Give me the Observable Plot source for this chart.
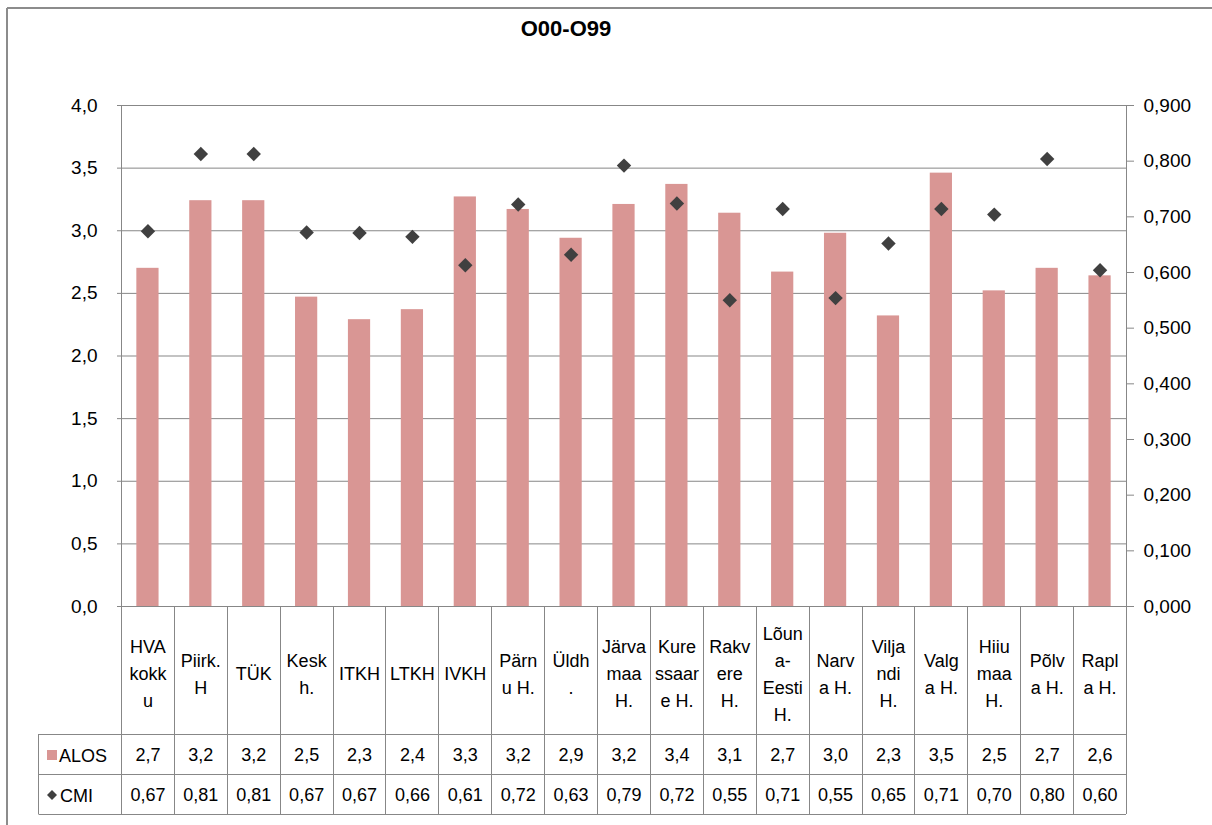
<!DOCTYPE html>
<html>
<head>
<meta charset="utf-8">
<script src="https://cdn.jsdelivr.net/npm/d3@7"></script>
<script src="https://cdn.jsdelivr.net/npm/@observablehq/plot@0.6"></script>
<style>
  html, body { margin: 0; padding: 0; background: #fff; }
  #chart svg { display: block; }
</style>
</head>
<body>
<div id="chart"></div>
<script>
// ---- data ----
const title = "O00-O99";
const categories = ["HVA kokku", "Piirk. H", "TÜK", "Kesk h.", "ITKH", "LTKH", "IVKH", "Pärnu H.", "Üldh.",
  "Järvamaa H.", "Kuressaare H.", "Rakvere H.", "Lõuna-Eesti H.", "Narva H.", "Viljandi H.", "Valga H.",
  "Hiiumaa H.", "Põlva H.", "Rapla H."];
const headerLabels = ["HVA\nkokk\nu", "Piirk.\nH", "TÜK", "Kesk\nh.", "ITKH", "LTKH", "IVKH", "Pärn\nu H.", "Üldh\n.",
  "Järva\nmaa\nH.", "Kure\nssaar\ne H.", "Rakv\nere\nH.", "Lõun\na-\nEesti\nH.", "Narv\na H.", "Vilja\nndi\nH.",
  "Valg\na H.", "Hiiu\nmaa\nH.", "Põlv\na H.", "Rapl\na H."];
const alos = [2.70, 3.24, 3.24, 2.47, 2.29, 2.37, 3.27, 3.17, 2.94, 3.21, 3.37, 3.14, 2.67, 2.98, 2.32, 3.46, 2.52, 2.70, 2.64];
const cmi = [0.674, 0.813, 0.813, 0.672, 0.671, 0.664, 0.613, 0.722, 0.632, 0.792, 0.724, 0.550, 0.714, 0.554, 0.652, 0.714, 0.704, 0.804, 0.604];
const seriesNames = ["ALOS", "CMI"];
const leftTicks = [0, 0.5, 1, 1.5, 2, 2.5, 3, 3.5, 4];
const rightTicks = [0, 0.1, 0.2, 0.3, 0.4, 0.5, 0.6, 0.7, 0.8, 0.9];

// ---- styling ----
const BAR = "#D99694";
const DOT = "#404040";
const GRID = "#878787";
const K = 4 / 0.9; // right axis (0–0.9) mapped onto left axis (0–4)
const comma = (v, d) => v.toFixed(d).replace(".", ",");

const rows = categories.map((name, i) => ({name, label: headerLabels[i], alos: alos[i], cmi: cmi[i]}));

const W = 1212, H = 825;
const mL = 121, mR = 86, mT = 105, mB = 219;
const headerH = 128, rowH = 40, legendLeft = 38;

function outerBorder(index, scales, values, dims) {
  const g = d3.create("svg:g").attr("stroke", "#8c8c8c").attr("stroke-width", 2).attr("fill", "none");
  g.append("line").attr("x1", 7).attr("x2", 7).attr("y1", 8).attr("y2", dims.height);
  g.append("line").attr("x1", 7).attr("x2", dims.width).attr("y1", 8).attr("y2", 8);
  return g.node();
}

function tableGrid(index, scales, values, dims) {
  const x = scales.x;
  const n = categories.length;
  const step = x.step ? x.step() : (dims.width - dims.marginLeft - dims.marginRight) / n;
  const bw = x.bandwidth ? x.bandwidth() : 0;
  const y0 = dims.height - dims.marginBottom;
  const r1 = y0 + headerH, r2 = r1 + rowH, r3 = r2 + rowH;
  const bounds = categories.map(c => x(c) + bw / 2 - step / 2);
  bounds.push(x(categories[n - 1]) + bw / 2 + step / 2);
  const right = bounds[n];
  const g = d3.create("svg:g").attr("stroke", GRID).attr("fill", "none");
  for (const b of bounds) {
    const bx = Math.round(b) + 0.5;
    g.append("line").attr("x1", bx).attr("x2", bx).attr("y1", y0).attr("y2", r3);
  }
  for (const ry of [r1, r2, r3]) {
    g.append("line").attr("x1", legendLeft + 0.5).attr("x2", right).attr("y1", ry + 0.5).attr("y2", ry + 0.5);
  }
  g.append("line").attr("x1", legendLeft + 0.5).attr("x2", legendLeft + 0.5).attr("y1", r1).attr("y2", r3);
  // legend entries
  const lg = g.append("g").attr("stroke", "none").attr("text-anchor", "start");
  lg.append("rect").attr("x", 47).attr("y", r1 + 16).attr("width", 10).attr("height", 10).attr("fill", BAR);
  lg.append("text").attr("x", 59).attr("y", r1 + 22).attr("dy", "0.35em").attr("fill", "#000")
    .attr("font-size", 18).text(seriesNames[0]);
  const cy = r2 + 21, cx = 52;
  lg.append("path").attr("d", `M${cx},${cy - 5}L${cx + 5},${cy}L${cx},${cy + 5}L${cx - 5},${cy}Z`).attr("fill", DOT);
  lg.append("text").attr("x", 60).attr("y", cy + 1).attr("dy", "0.35em").attr("fill", "#000")
    .attr("font-size", 18).text(seriesNames[1]);
  return g.node();
}

const chart = Plot.plot({
  width: W, height: H,
  marginLeft: mL, marginRight: mR, marginTop: mT, marginBottom: mB,
  style: {fontFamily: "'Liberation Sans', Arial, sans-serif", fontSize: "18px", color: "#000", background: "#fff", overflow: "visible"},
  x: {domain: categories, paddingInner: 0.58, paddingOuter: 0.29, round: false, axis: null},
  y: {domain: [0, 4], axis: null, label: null},
  marks: [
    outerBorder,
    Plot.gridY(leftTicks, {stroke: GRID, strokeOpacity: 1}),
    Plot.barY(rows, {x: "name", y: "alos", fill: BAR}),
    Plot.frame({stroke: GRID}),
    tableGrid,
    Plot.dot(rows, {x: "name", y: d => d.cmi * K, symbol: "diamond2", r: 6.5, fill: DOT, stroke: "none"}),
    Plot.axisY(leftTicks, {anchor: "left", tickSize: 4, tickPadding: 20, stroke: GRID, label: null,
      fontSize: 19, tickFormat: d => comma(d, 1)}),
    Plot.axisY(rightTicks.map(v => v * K), {anchor: "right", tickSize: 7, tickPadding: 10, stroke: GRID, label: null,
      fontSize: 19, tickFormat: d => comma(d / K, 3)}),
    Plot.text(rows, {x: "name", text: "label", frameAnchor: "bottom", dy: 65, lineAnchor: "middle",
      lineHeight: 1.5, fontSize: 18, fill: "#000"}),
    Plot.text(rows, {x: "name", text: d => comma(d.alos, 1), frameAnchor: "bottom", dy: headerH + 26, fontSize: 18, fill: "#000"}),
    Plot.text(rows, {x: "name", text: d => comma(d.cmi, 2), frameAnchor: "bottom", dy: headerH + rowH + 26, fontSize: 18, fill: "#000"}),
    Plot.text([title], {frameAnchor: "top", dx: -58, dy: -77, lineAnchor: "middle", fontSize: 22, fontWeight: "bold", fill: "#000"})
  ]
});

document.getElementById("chart").append(chart);
</script>
</body>
</html>
